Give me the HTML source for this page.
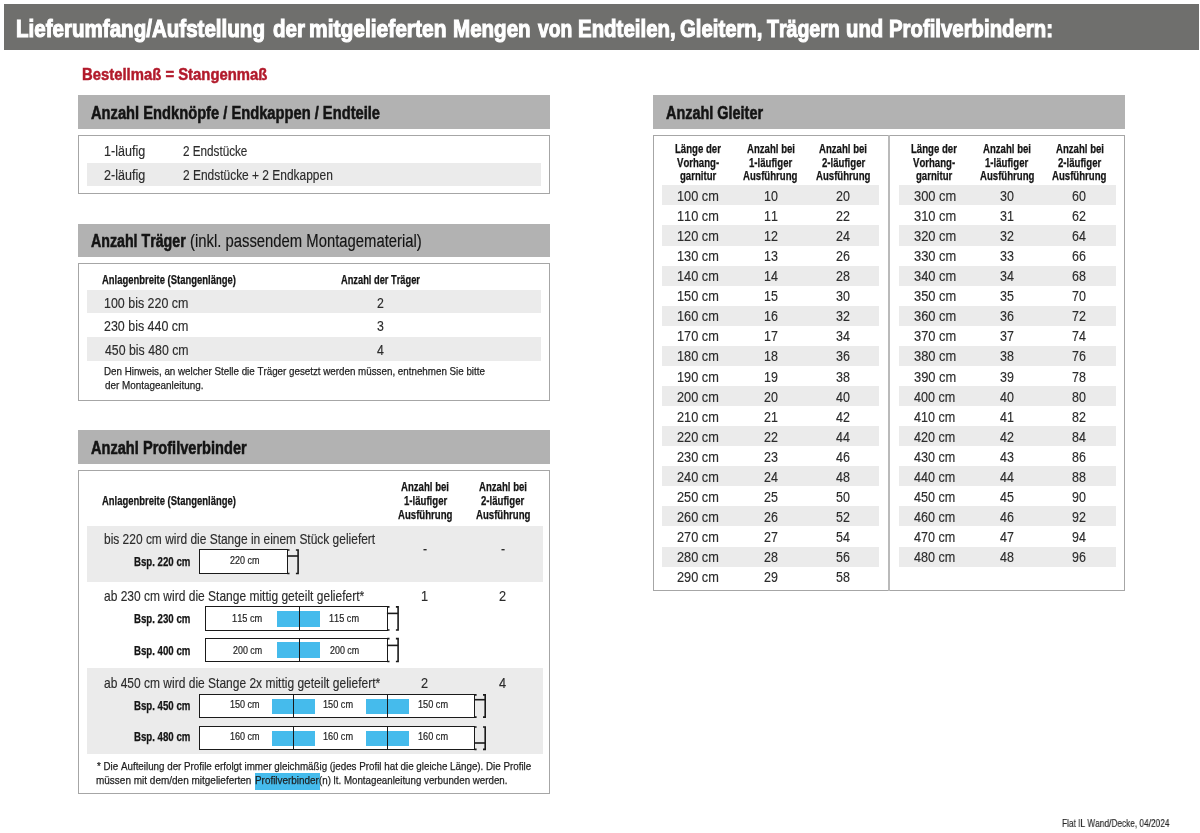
<!DOCTYPE html><html><head><meta charset="utf-8"><style>
html,body{margin:0;padding:0;background:#fff;width:1200px;height:833px;overflow:hidden;position:relative}
div{white-space:nowrap}
body{font-family:"Liberation Sans",sans-serif;font-kerning:none;}
</style></head><body>
<div id="wrap" style="position:absolute;left:0;top:0;width:1200px;height:833px;will-change:transform">

<div style="position:absolute;left:4px;top:4px;width:1195px;height:46px;background:#6f6f6d;"></div>
<div style="position:absolute;left:78px;top:95px;width:472px;height:33.5px;background:#b2b2b2;"></div>
<div style="position:absolute;left:77.6px;top:134.6px;width:472.69999999999993px;height:59.80000000000001px;box-sizing:border-box;border:1.5px solid #a6a6a6;"></div>
<div style="position:absolute;left:87px;top:162.7px;width:454px;height:23.100000000000023px;background:#ebebeb;"></div>
<div style="position:absolute;left:78px;top:224px;width:472px;height:33px;background:#b2b2b2;"></div>
<div style="position:absolute;left:77.6px;top:263.0px;width:472.69999999999993px;height:138.3px;box-sizing:border-box;border:1.5px solid #a6a6a6;"></div>
<div style="position:absolute;left:87px;top:289.7px;width:454px;height:23.600000000000023px;background:#ebebeb;"></div>
<div style="position:absolute;left:87px;top:337px;width:454px;height:24px;background:#ebebeb;"></div>
<div style="position:absolute;left:78px;top:430.4px;width:472px;height:33.200000000000045px;background:#b2b2b2;"></div>
<div style="position:absolute;left:77.6px;top:469.8px;width:472.69999999999993px;height:324.3px;box-sizing:border-box;border:1.5px solid #a6a6a6;"></div>
<div style="position:absolute;left:87px;top:526px;width:456px;height:56px;background:#ebebeb;"></div>
<div style="position:absolute;left:87px;top:668.3px;width:456px;height:86.20000000000005px;background:#ebebeb;"></div>
<div style="position:absolute;left:199px;top:549.3px;width:88.89999999999998px;height:24.90000000000009px;box-sizing:border-box;border:1.8px solid #1a1a1a;background:#fff;"></div>
<svg style="position:absolute;left:0;top:0" width="1200" height="833"><g fill="none" stroke="#1a1a1a" stroke-width="1.6"><path d="M287.29999999999995,549.9499999999999 h2.2 M287.29999999999995,573.5500000000001 h2.2"/><path d="M295.9,549.9499999999999 h2.2 v23.60000000000009 h-2.2"/><path d="M286.9,556 H298.09999999999997"/></g></svg>
<div style="position:absolute;left:204.9px;top:606.2px;width:182.99999999999997px;height:24.5px;box-sizing:border-box;border:1.8px solid #1a1a1a;background:#fff;"></div>
<div style="position:absolute;left:277.3px;top:610.5px;width:43.0px;height:16.200000000000045px;background:#45bbec;"></div>
<div style="position:absolute;left:298.5px;top:606.2px;width:1.1999999999999886px;height:24.5px;background:#1a1a1a;"></div>
<svg style="position:absolute;left:0;top:0" width="1200" height="833"><g fill="none" stroke="#1a1a1a" stroke-width="1.6"><path d="M387.29999999999995,606.85 h2.2 M387.29999999999995,630.0500000000001 h2.2"/><path d="M395.9,606.85 h2.2 v23.2 h-2.2"/><path d="M386.9,613.4 H398.09999999999997"/></g></svg>
<div style="position:absolute;left:204.9px;top:638.0px;width:182.99999999999997px;height:24.200000000000045px;box-sizing:border-box;border:1.8px solid #1a1a1a;background:#fff;"></div>
<div style="position:absolute;left:277.3px;top:642.3px;width:43.0px;height:15.900000000000091px;background:#45bbec;"></div>
<div style="position:absolute;left:298.5px;top:638.0px;width:1.1999999999999886px;height:24.200000000000045px;background:#1a1a1a;"></div>
<svg style="position:absolute;left:0;top:0" width="1200" height="833"><g fill="none" stroke="#1a1a1a" stroke-width="1.6"><path d="M387.29999999999995,638.65 h2.2 M387.29999999999995,661.5500000000001 h2.2"/><path d="M395.9,638.65 h2.2 v22.900000000000045 h-2.2"/><path d="M386.9,645.4 H398.09999999999997"/></g></svg>
<div style="position:absolute;left:199.2px;top:694.2px;width:275.8px;height:23.59999999999991px;box-sizing:border-box;border:1.8px solid #1a1a1a;background:#fff;"></div>
<div style="position:absolute;left:272px;top:698.5px;width:43.30000000000001px;height:15.299999999999955px;background:#45bbec;"></div>
<div style="position:absolute;left:366.2px;top:698.5px;width:43.0px;height:15.299999999999955px;background:#45bbec;"></div>
<div style="position:absolute;left:292.5px;top:694.2px;width:1.1999999999999886px;height:23.59999999999991px;background:#1a1a1a;"></div>
<div style="position:absolute;left:386.5px;top:694.2px;width:1.1999999999999886px;height:23.59999999999991px;background:#1a1a1a;"></div>
<svg style="position:absolute;left:0;top:0" width="1200" height="833"><g fill="none" stroke="#1a1a1a" stroke-width="1.6"><path d="M474.4,694.85 h2.2 M474.4,717.15 h2.2"/><path d="M483.0,694.85 h2.2 v22.29999999999991 h-2.2"/><path d="M474,699.7 H485.2"/></g></svg>
<div style="position:absolute;left:199.2px;top:726.3px;width:275.8px;height:23.700000000000045px;box-sizing:border-box;border:1.8px solid #1a1a1a;background:#fff;"></div>
<div style="position:absolute;left:272px;top:730.5999999999999px;width:43.30000000000001px;height:15.400000000000091px;background:#45bbec;"></div>
<div style="position:absolute;left:366.2px;top:730.5999999999999px;width:43.0px;height:15.400000000000091px;background:#45bbec;"></div>
<div style="position:absolute;left:292.5px;top:726.3px;width:1.1999999999999886px;height:23.700000000000045px;background:#1a1a1a;"></div>
<div style="position:absolute;left:386.5px;top:726.3px;width:1.1999999999999886px;height:23.700000000000045px;background:#1a1a1a;"></div>
<svg style="position:absolute;left:0;top:0" width="1200" height="833"><g fill="none" stroke="#1a1a1a" stroke-width="1.6"><path d="M474.4,726.9499999999999 h2.2 M474.4,749.35 h2.2"/><path d="M483.0,726.9499999999999 h2.2 v22.400000000000045 h-2.2"/><path d="M474,743 H485.2"/></g></svg>
<div style="position:absolute;left:254.8px;top:772.7px;width:65.0px;height:17.699999999999932px;background:#45bbec;"></div>
<div style="position:absolute;left:653px;top:95.3px;width:472px;height:33.39999999999999px;background:#b2b2b2;"></div>
<div style="position:absolute;left:652.9px;top:134.9px;width:472.5000000000001px;height:455.9px;box-sizing:border-box;border:1.5px solid #a6a6a6;"></div>
<div style="position:absolute;left:888.3px;top:135px;width:1.400000000000091px;height:455.5px;background:#bababa;"></div>
<div style="position:absolute;left:662.3px;top:185.3px;width:216.4000000000001px;height:20.069999999999993px;background:#ebebeb;"></div>
<div style="position:absolute;left:662.3px;top:225.44px;width:216.4000000000001px;height:20.069999999999993px;background:#ebebeb;"></div>
<div style="position:absolute;left:662.3px;top:265.58000000000004px;width:216.4000000000001px;height:20.069999999999993px;background:#ebebeb;"></div>
<div style="position:absolute;left:662.3px;top:305.72px;width:216.4000000000001px;height:20.069999999999993px;background:#ebebeb;"></div>
<div style="position:absolute;left:662.3px;top:345.86px;width:216.4000000000001px;height:20.069999999999993px;background:#ebebeb;"></div>
<div style="position:absolute;left:662.3px;top:386.0px;width:216.4000000000001px;height:20.069999999999993px;background:#ebebeb;"></div>
<div style="position:absolute;left:662.3px;top:426.14px;width:216.4000000000001px;height:20.069999999999993px;background:#ebebeb;"></div>
<div style="position:absolute;left:662.3px;top:466.28000000000003px;width:216.4000000000001px;height:20.069999999999993px;background:#ebebeb;"></div>
<div style="position:absolute;left:662.3px;top:506.42px;width:216.4000000000001px;height:20.069999999999993px;background:#ebebeb;"></div>
<div style="position:absolute;left:662.3px;top:546.56px;width:216.4000000000001px;height:20.07000000000005px;background:#ebebeb;"></div>
<div style="position:absolute;left:899.3px;top:185.3px;width:216.70000000000005px;height:20.069999999999993px;background:#ebebeb;"></div>
<div style="position:absolute;left:899.3px;top:225.44px;width:216.70000000000005px;height:20.069999999999993px;background:#ebebeb;"></div>
<div style="position:absolute;left:899.3px;top:265.58000000000004px;width:216.70000000000005px;height:20.069999999999993px;background:#ebebeb;"></div>
<div style="position:absolute;left:899.3px;top:305.72px;width:216.70000000000005px;height:20.069999999999993px;background:#ebebeb;"></div>
<div style="position:absolute;left:899.3px;top:345.86px;width:216.70000000000005px;height:20.069999999999993px;background:#ebebeb;"></div>
<div style="position:absolute;left:899.3px;top:386.0px;width:216.70000000000005px;height:20.069999999999993px;background:#ebebeb;"></div>
<div style="position:absolute;left:899.3px;top:426.14px;width:216.70000000000005px;height:20.069999999999993px;background:#ebebeb;"></div>
<div style="position:absolute;left:899.3px;top:466.28000000000003px;width:216.70000000000005px;height:20.069999999999993px;background:#ebebeb;"></div>
<div style="position:absolute;left:899.3px;top:506.42px;width:216.70000000000005px;height:20.069999999999993px;background:#ebebeb;"></div>
<div style="position:absolute;left:899.3px;top:546.56px;width:216.70000000000005px;height:20.07000000000005px;background:#ebebeb;"></div>
<div id="t0" style="position:absolute;left:16.14px;top:16.88px;font-size:24px;line-height:24px;font-weight:bold;color:#ffffff;transform:scaleX(0.8564);transform-origin:0 0;-webkit-text-stroke:1.1px #fff;">Lieferumfang/Aufstellung</div>
<div id="t1" style="position:absolute;left:272.50px;top:16.88px;font-size:24px;line-height:24px;font-weight:bold;color:#ffffff;transform:scaleX(0.8553);transform-origin:0 0;-webkit-text-stroke:1.1px #fff;">der</div>
<div id="t2" style="position:absolute;left:309.13px;top:16.88px;font-size:24px;line-height:24px;font-weight:bold;color:#ffffff;transform:scaleX(0.8734);transform-origin:0 0;-webkit-text-stroke:1.1px #fff;">mitgelieferten</div>
<div id="t3" style="position:absolute;left:452.89px;top:16.88px;font-size:24px;line-height:24px;font-weight:bold;color:#ffffff;transform:scaleX(0.8567);transform-origin:0 0;-webkit-text-stroke:1.1px #fff;">Mengen</div>
<div id="t4" style="position:absolute;left:537.50px;top:16.88px;font-size:24px;line-height:24px;font-weight:bold;color:#ffffff;transform:scaleX(0.8036);transform-origin:0 0;-webkit-text-stroke:1.1px #fff;">von</div>
<div id="t5" style="position:absolute;left:577.90px;top:16.88px;font-size:24px;line-height:24px;font-weight:bold;color:#ffffff;transform:scaleX(0.8518);transform-origin:0 0;-webkit-text-stroke:1.1px #fff;">Endteilen,</div>
<div id="t6" style="position:absolute;left:680.00px;top:16.88px;font-size:24px;line-height:24px;font-weight:bold;color:#ffffff;transform:scaleX(0.8464);transform-origin:0 0;-webkit-text-stroke:1.1px #fff;">Gleitern,</div>
<div id="t7" style="position:absolute;left:767.00px;top:16.88px;font-size:24px;line-height:24px;font-weight:bold;color:#ffffff;transform:scaleX(0.8146);transform-origin:0 0;-webkit-text-stroke:1.1px #fff;">Trägern</div>
<div id="t8" style="position:absolute;left:846.15px;top:16.88px;font-size:24px;line-height:24px;font-weight:bold;color:#ffffff;transform:scaleX(0.8452);transform-origin:0 0;-webkit-text-stroke:1.1px #fff;">und</div>
<div id="t9" style="position:absolute;left:889.15px;top:16.88px;font-size:24px;line-height:24px;font-weight:bold;color:#ffffff;transform:scaleX(0.8482);transform-origin:0 0;-webkit-text-stroke:1.1px #fff;">Profilverbindern:</div>
<div id="t10" style="position:absolute;left:81.70px;top:66.23px;font-size:16.5px;line-height:16.5px;font-weight:bold;color:#b21a2b;transform:scaleX(0.9005);transform-origin:0 0;-webkit-text-stroke:0.48px #b21a2b;">Bestellmaß = Stangenmaß</div>
<div id="t11" style="position:absolute;left:91.00px;top:103.96px;font-size:18px;line-height:18px;font-weight:bold;color:#141414;transform:scaleX(0.8164);transform-origin:0 0;-webkit-text-stroke:0.55px #141414;">Anzahl Endknöpfe / Endkappen / Endteile</div>
<div id="t12" style="position:absolute;left:104.10px;top:144.35px;font-size:14px;line-height:14px;font-weight:normal;color:#2b2b2b;transform:scaleX(0.8977);transform-origin:0 0;-webkit-text-stroke:0.15px #2b2b2b;">1-läufig</div>
<div id="t13" style="position:absolute;left:183.16px;top:144.35px;font-size:14px;line-height:14px;font-weight:normal;color:#2b2b2b;transform:scaleX(0.8355);transform-origin:0 0;-webkit-text-stroke:0.15px #2b2b2b;">2 Endstücke</div>
<div id="t14" style="position:absolute;left:104.10px;top:168.35px;font-size:14px;line-height:14px;font-weight:normal;color:#2b2b2b;transform:scaleX(0.8977);transform-origin:0 0;-webkit-text-stroke:0.15px #2b2b2b;">2-läufig</div>
<div id="t15" style="position:absolute;left:183.15px;top:168.35px;font-size:14px;line-height:14px;font-weight:normal;color:#2b2b2b;transform:scaleX(0.8534);transform-origin:0 0;-webkit-text-stroke:0.15px #2b2b2b;">2 Endstücke + 2 Endkappen</div>
<div id="t16" style="position:absolute;left:91.00px;top:231.96px;font-size:18px;line-height:18px;font-weight:bold;color:#141414;transform:scaleX(0.7892);transform-origin:0 0;-webkit-text-stroke:0.55px #141414;">Anzahl Träger</div>
<div id="t17" style="position:absolute;left:189.68px;top:231.96px;font-size:18px;line-height:18px;font-weight:normal;color:#141414;transform:scaleX(0.8244);transform-origin:0 0;-webkit-text-stroke:0.15px #141414;">(inkl. passendem Montagematerial)</div>
<div id="t18" style="position:absolute;left:102.00px;top:274.04px;font-size:12px;line-height:12px;font-weight:bold;color:#141414;transform:scaleX(0.7871);transform-origin:0 0;-webkit-text-stroke:0.25px #141414;">Anlagenbreite (Stangenlänge)</div>
<div id="t19" style="position:absolute;left:340.80px;top:274.04px;font-size:12px;line-height:12px;font-weight:bold;color:#141414;transform:scaleX(0.7735);transform-origin:0 0;-webkit-text-stroke:0.25px #141414;">Anzahl der Träger</div>
<div id="t20" style="position:absolute;left:104.14px;top:295.93px;font-size:14.5px;line-height:14.5px;font-weight:normal;color:#2b2b2b;transform:scaleX(0.8588);transform-origin:0 0;-webkit-text-stroke:0.15px #2b2b2b;">100 bis 220 cm</div>
<div id="t21" style="position:absolute;left:376.57px;top:295.93px;font-size:14.5px;line-height:14.5px;font-weight:normal;color:#2b2b2b;transform:scaleX(0.8500);transform-origin:0 0;-webkit-text-stroke:0.15px #2b2b2b;">2</div>
<div id="t22" style="position:absolute;left:104.14px;top:318.93px;font-size:14.5px;line-height:14.5px;font-weight:normal;color:#2b2b2b;transform:scaleX(0.8588);transform-origin:0 0;-webkit-text-stroke:0.15px #2b2b2b;">230 bis 440 cm</div>
<div id="t23" style="position:absolute;left:376.57px;top:318.93px;font-size:14.5px;line-height:14.5px;font-weight:normal;color:#2b2b2b;transform:scaleX(0.8500);transform-origin:0 0;-webkit-text-stroke:0.15px #2b2b2b;">3</div>
<div id="t24" style="position:absolute;left:105.00px;top:342.93px;font-size:14.5px;line-height:14.5px;font-weight:normal;color:#2b2b2b;transform:scaleX(0.8500);transform-origin:0 0;-webkit-text-stroke:0.15px #2b2b2b;">450 bis 480 cm</div>
<div id="t25" style="position:absolute;left:377.00px;top:342.93px;font-size:14.5px;line-height:14.5px;font-weight:normal;color:#2b2b2b;transform:scaleX(0.8500);transform-origin:0 0;-webkit-text-stroke:0.15px #2b2b2b;">4</div>
<div id="t26" style="position:absolute;left:104.15px;top:366.47px;font-size:11.5px;line-height:11.5px;font-weight:normal;color:#1e1e1e;transform:scaleX(0.8513);transform-origin:0 0;-webkit-text-stroke:0.25px #1e1e1e;">Den Hinweis, an welcher Stelle die Träger gesetzt werden müssen, entnehmen Sie bitte</div>
<div id="t27" style="position:absolute;left:105.00px;top:380.47px;font-size:11.5px;line-height:11.5px;font-weight:normal;color:#1e1e1e;transform:scaleX(0.8596);transform-origin:0 0;-webkit-text-stroke:0.25px #1e1e1e;">der Montageanleitung.</div>
<div id="t28" style="position:absolute;left:91.00px;top:438.96px;font-size:18px;line-height:18px;font-weight:bold;color:#141414;transform:scaleX(0.8109);transform-origin:0 0;-webkit-text-stroke:0.55px #141414;">Anzahl Profilverbinder</div>
<div id="t29" style="position:absolute;left:102.00px;top:495.04px;font-size:12px;line-height:12px;font-weight:bold;color:#141414;transform:scaleX(0.7871);transform-origin:0 0;-webkit-text-stroke:0.25px #141414;">Anlagenbreite (Stangenlänge)</div>
<div id="t30" style="position:absolute;left:401.20px;top:481.04px;font-size:12px;line-height:12px;font-weight:bold;color:#141414;transform:scaleX(0.8000);transform-origin:0 0;-webkit-text-stroke:0.25px #141414;">Anzahl bei</div>
<div id="t31" style="position:absolute;left:403.60px;top:495.04px;font-size:12px;line-height:12px;font-weight:bold;color:#141414;transform:scaleX(0.8000);transform-origin:0 0;-webkit-text-stroke:0.25px #141414;">1-läufiger</div>
<div id="t32" style="position:absolute;left:398.00px;top:509.04px;font-size:12px;line-height:12px;font-weight:bold;color:#141414;transform:scaleX(0.8000);transform-origin:0 0;-webkit-text-stroke:0.25px #141414;">Ausführung</div>
<div id="t33" style="position:absolute;left:479.00px;top:481.04px;font-size:12px;line-height:12px;font-weight:bold;color:#141414;transform:scaleX(0.8000);transform-origin:0 0;-webkit-text-stroke:0.25px #141414;">Anzahl bei</div>
<div id="t34" style="position:absolute;left:481.40px;top:495.04px;font-size:12px;line-height:12px;font-weight:bold;color:#141414;transform:scaleX(0.8000);transform-origin:0 0;-webkit-text-stroke:0.25px #141414;">2-läufiger</div>
<div id="t35" style="position:absolute;left:475.80px;top:509.04px;font-size:12px;line-height:12px;font-weight:bold;color:#141414;transform:scaleX(0.8000);transform-origin:0 0;-webkit-text-stroke:0.25px #141414;">Ausführung</div>
<div id="t36" style="position:absolute;left:103.80px;top:530.50px;font-size:15px;line-height:15px;font-weight:normal;color:#2b2b2b;transform:scaleX(0.7971);transform-origin:0 0;-webkit-text-stroke:0.15px #2b2b2b;">bis 220 cm wird die Stange in einem Stück geliefert</div>
<div id="t37" style="position:absolute;left:423.30px;top:541.93px;font-size:14.5px;line-height:14.5px;font-weight:normal;color:#2b2b2b;transform:scaleX(0.8500);transform-origin:0 0;-webkit-text-stroke:0.15px #2b2b2b;">-</div>
<div id="t38" style="position:absolute;left:501.30px;top:541.93px;font-size:14.5px;line-height:14.5px;font-weight:normal;color:#2b2b2b;transform:scaleX(0.8500);transform-origin:0 0;-webkit-text-stroke:0.15px #2b2b2b;">-</div>
<div id="t39" style="position:absolute;left:104.00px;top:587.50px;font-size:15px;line-height:15px;font-weight:normal;color:#2b2b2b;transform:scaleX(0.8000);transform-origin:0 0;-webkit-text-stroke:0.15px #2b2b2b;">ab 230 cm wird die Stange mittig geteilt geliefert*</div>
<div id="t40" style="position:absolute;left:420.68px;top:587.50px;font-size:15px;line-height:15px;font-weight:normal;color:#2b2b2b;transform:scaleX(0.8500);transform-origin:0 0;-webkit-text-stroke:0.15px #2b2b2b;">1</div>
<div id="t41" style="position:absolute;left:499.18px;top:587.50px;font-size:15px;line-height:15px;font-weight:normal;color:#2b2b2b;transform:scaleX(0.8500);transform-origin:0 0;-webkit-text-stroke:0.15px #2b2b2b;">2</div>
<div id="t42" style="position:absolute;left:104.00px;top:674.50px;font-size:15px;line-height:15px;font-weight:normal;color:#2b2b2b;transform:scaleX(0.8000);transform-origin:0 0;-webkit-text-stroke:0.15px #2b2b2b;">ab 450 cm wird die Stange 2x mittig geteilt geliefert*</div>
<div id="t43" style="position:absolute;left:420.98px;top:674.50px;font-size:15px;line-height:15px;font-weight:normal;color:#2b2b2b;transform:scaleX(0.8500);transform-origin:0 0;-webkit-text-stroke:0.15px #2b2b2b;">2</div>
<div id="t44" style="position:absolute;left:499.40px;top:674.50px;font-size:15px;line-height:15px;font-weight:normal;color:#2b2b2b;transform:scaleX(0.8500);transform-origin:0 0;-webkit-text-stroke:0.15px #2b2b2b;">4</div>
<div id="t45" style="position:absolute;left:134.20px;top:556.04px;font-size:12px;line-height:12px;font-weight:bold;color:#141414;transform:scaleX(0.8043);transform-origin:0 0;-webkit-text-stroke:0.25px #141414;">Bsp. 220 cm</div>
<div id="t46" style="position:absolute;left:230.00px;top:555.31px;font-size:10.5px;line-height:10.5px;font-weight:normal;color:#1e1e1e;transform:scaleX(0.8529);transform-origin:0 0;-webkit-text-stroke:0.2px #1e1e1e;">220 cm</div>
<div id="t47" style="position:absolute;left:134.20px;top:613.04px;font-size:12px;line-height:12px;font-weight:bold;color:#141414;transform:scaleX(0.8043);transform-origin:0 0;-webkit-text-stroke:0.25px #141414;">Bsp. 230 cm</div>
<div id="t48" style="position:absolute;left:232.12px;top:613.31px;font-size:10.5px;line-height:10.5px;font-weight:normal;color:#1e1e1e;transform:scaleX(0.8788);transform-origin:0 0;-webkit-text-stroke:0.2px #1e1e1e;">115 cm</div>
<div id="t49" style="position:absolute;left:329.13px;top:613.31px;font-size:10.5px;line-height:10.5px;font-weight:normal;color:#1e1e1e;transform:scaleX(0.8727);transform-origin:0 0;-webkit-text-stroke:0.2px #1e1e1e;">115 cm</div>
<div id="t50" style="position:absolute;left:134.20px;top:645.04px;font-size:12px;line-height:12px;font-weight:bold;color:#141414;transform:scaleX(0.8043);transform-origin:0 0;-webkit-text-stroke:0.25px #141414;">Bsp. 400 cm</div>
<div id="t51" style="position:absolute;left:232.50px;top:645.31px;font-size:10.5px;line-height:10.5px;font-weight:normal;color:#1e1e1e;transform:scaleX(0.8471);transform-origin:0 0;-webkit-text-stroke:0.2px #1e1e1e;">200 cm</div>
<div id="t52" style="position:absolute;left:330.00px;top:645.31px;font-size:10.5px;line-height:10.5px;font-weight:normal;color:#1e1e1e;transform:scaleX(0.8471);transform-origin:0 0;-webkit-text-stroke:0.2px #1e1e1e;">200 cm</div>
<div id="t53" style="position:absolute;left:134.20px;top:700.04px;font-size:12px;line-height:12px;font-weight:bold;color:#141414;transform:scaleX(0.8043);transform-origin:0 0;-webkit-text-stroke:0.25px #141414;">Bsp. 450 cm</div>
<div id="t54" style="position:absolute;left:230.44px;top:699.31px;font-size:10.5px;line-height:10.5px;font-weight:normal;color:#1e1e1e;transform:scaleX(0.8606);transform-origin:0 0;-webkit-text-stroke:0.2px #1e1e1e;">150 cm</div>
<div id="t55" style="position:absolute;left:323.33px;top:699.31px;font-size:10.5px;line-height:10.5px;font-weight:normal;color:#1e1e1e;transform:scaleX(0.8727);transform-origin:0 0;-webkit-text-stroke:0.2px #1e1e1e;">150 cm</div>
<div id="t56" style="position:absolute;left:417.83px;top:699.31px;font-size:10.5px;line-height:10.5px;font-weight:normal;color:#1e1e1e;transform:scaleX(0.8727);transform-origin:0 0;-webkit-text-stroke:0.2px #1e1e1e;">150 cm</div>
<div id="t57" style="position:absolute;left:134.20px;top:731.04px;font-size:12px;line-height:12px;font-weight:bold;color:#141414;transform:scaleX(0.8043);transform-origin:0 0;-webkit-text-stroke:0.25px #141414;">Bsp. 480 cm</div>
<div id="t58" style="position:absolute;left:230.44px;top:731.31px;font-size:10.5px;line-height:10.5px;font-weight:normal;color:#1e1e1e;transform:scaleX(0.8606);transform-origin:0 0;-webkit-text-stroke:0.2px #1e1e1e;">160 cm</div>
<div id="t59" style="position:absolute;left:323.33px;top:731.31px;font-size:10.5px;line-height:10.5px;font-weight:normal;color:#1e1e1e;transform:scaleX(0.8727);transform-origin:0 0;-webkit-text-stroke:0.2px #1e1e1e;">160 cm</div>
<div id="t60" style="position:absolute;left:417.83px;top:731.31px;font-size:10.5px;line-height:10.5px;font-weight:normal;color:#1e1e1e;transform:scaleX(0.8727);transform-origin:0 0;-webkit-text-stroke:0.2px #1e1e1e;">160 cm</div>
<div id="t61" style="position:absolute;left:96.90px;top:761.47px;font-size:11.5px;line-height:11.5px;font-weight:normal;color:#1e1e1e;transform:scaleX(0.8512);transform-origin:0 0;-webkit-text-stroke:0.25px #1e1e1e;">* Die Aufteilung der Profile erfolgt immer gleichmäßig (jedes Profil hat die gleiche Länge). Die Profile</div>
<div id="t62" style="position:absolute;left:96.03px;top:775.47px;font-size:11.5px;line-height:11.5px;font-weight:normal;color:#1e1e1e;transform:scaleX(0.8684);transform-origin:0 0;-webkit-text-stroke:0.25px #1e1e1e;">müssen mit dem/den mitgelieferten</div>
<div id="t63" style="position:absolute;left:254.54px;top:775.47px;font-size:11.5px;line-height:11.5px;font-weight:normal;color:#1e1e1e;transform:scaleX(0.8616);transform-origin:0 0;-webkit-text-stroke:0.25px #1e1e1e;">Profilverbinder</div>
<div id="t64" style="position:absolute;left:319.35px;top:775.47px;font-size:11.5px;line-height:11.5px;font-weight:normal;color:#1e1e1e;transform:scaleX(0.8471);transform-origin:0 0;-webkit-text-stroke:0.25px #1e1e1e;">(n) lt. Montageanleitung verbunden werden.</div>
<div id="t65" style="position:absolute;left:666.00px;top:103.96px;font-size:18px;line-height:18px;font-weight:bold;color:#141414;transform:scaleX(0.8017);transform-origin:0 0;-webkit-text-stroke:0.55px #141414;">Anzahl Gleiter</div>
<div id="t66" style="position:absolute;left:675.20px;top:143.04px;font-size:12px;line-height:12px;font-weight:bold;color:#141414;transform:scaleX(0.8000);transform-origin:0 0;-webkit-text-stroke:0.25px #141414;">Länge der</div>
<div id="t67" style="position:absolute;left:677.20px;top:157.04px;font-size:12px;line-height:12px;font-weight:bold;color:#141414;transform:scaleX(0.8000);transform-origin:0 0;-webkit-text-stroke:0.25px #141414;">Vorhang-</div>
<div id="t68" style="position:absolute;left:680.00px;top:170.04px;font-size:12px;line-height:12px;font-weight:bold;color:#141414;transform:scaleX(0.8000);transform-origin:0 0;-webkit-text-stroke:0.25px #141414;">garnitur</div>
<div id="t69" style="position:absolute;left:746.50px;top:143.04px;font-size:12px;line-height:12px;font-weight:bold;color:#141414;transform:scaleX(0.8000);transform-origin:0 0;-webkit-text-stroke:0.25px #141414;">Anzahl bei</div>
<div id="t70" style="position:absolute;left:748.90px;top:157.04px;font-size:12px;line-height:12px;font-weight:bold;color:#141414;transform:scaleX(0.8000);transform-origin:0 0;-webkit-text-stroke:0.25px #141414;">1-läufiger</div>
<div id="t71" style="position:absolute;left:743.30px;top:170.04px;font-size:12px;line-height:12px;font-weight:bold;color:#141414;transform:scaleX(0.8000);transform-origin:0 0;-webkit-text-stroke:0.25px #141414;">Ausführung</div>
<div id="t72" style="position:absolute;left:819.40px;top:143.04px;font-size:12px;line-height:12px;font-weight:bold;color:#141414;transform:scaleX(0.8000);transform-origin:0 0;-webkit-text-stroke:0.25px #141414;">Anzahl bei</div>
<div id="t73" style="position:absolute;left:821.80px;top:157.04px;font-size:12px;line-height:12px;font-weight:bold;color:#141414;transform:scaleX(0.8000);transform-origin:0 0;-webkit-text-stroke:0.25px #141414;">2-läufiger</div>
<div id="t74" style="position:absolute;left:816.20px;top:170.04px;font-size:12px;line-height:12px;font-weight:bold;color:#141414;transform:scaleX(0.8000);transform-origin:0 0;-webkit-text-stroke:0.25px #141414;">Ausführung</div>
<div id="t75" style="position:absolute;left:911.20px;top:143.04px;font-size:12px;line-height:12px;font-weight:bold;color:#141414;transform:scaleX(0.8000);transform-origin:0 0;-webkit-text-stroke:0.25px #141414;">Länge der</div>
<div id="t76" style="position:absolute;left:913.20px;top:157.04px;font-size:12px;line-height:12px;font-weight:bold;color:#141414;transform:scaleX(0.8000);transform-origin:0 0;-webkit-text-stroke:0.25px #141414;">Vorhang-</div>
<div id="t77" style="position:absolute;left:916.00px;top:170.04px;font-size:12px;line-height:12px;font-weight:bold;color:#141414;transform:scaleX(0.8000);transform-origin:0 0;-webkit-text-stroke:0.25px #141414;">garnitur</div>
<div id="t78" style="position:absolute;left:983.00px;top:143.04px;font-size:12px;line-height:12px;font-weight:bold;color:#141414;transform:scaleX(0.8000);transform-origin:0 0;-webkit-text-stroke:0.25px #141414;">Anzahl bei</div>
<div id="t79" style="position:absolute;left:985.40px;top:157.04px;font-size:12px;line-height:12px;font-weight:bold;color:#141414;transform:scaleX(0.8000);transform-origin:0 0;-webkit-text-stroke:0.25px #141414;">1-läufiger</div>
<div id="t80" style="position:absolute;left:979.80px;top:170.04px;font-size:12px;line-height:12px;font-weight:bold;color:#141414;transform:scaleX(0.8000);transform-origin:0 0;-webkit-text-stroke:0.25px #141414;">Ausführung</div>
<div id="t81" style="position:absolute;left:1055.50px;top:143.04px;font-size:12px;line-height:12px;font-weight:bold;color:#141414;transform:scaleX(0.8000);transform-origin:0 0;-webkit-text-stroke:0.25px #141414;">Anzahl bei</div>
<div id="t82" style="position:absolute;left:1057.90px;top:157.04px;font-size:12px;line-height:12px;font-weight:bold;color:#141414;transform:scaleX(0.8000);transform-origin:0 0;-webkit-text-stroke:0.25px #141414;">2-läufiger</div>
<div id="t83" style="position:absolute;left:1052.30px;top:170.04px;font-size:12px;line-height:12px;font-weight:bold;color:#141414;transform:scaleX(0.8000);transform-origin:0 0;-webkit-text-stroke:0.25px #141414;">Ausführung</div>
<div id="t84" style="position:absolute;left:677.43px;top:188.76px;font-size:14.7px;line-height:14.7px;font-weight:normal;color:#2b2b2b;transform:scaleX(0.8696);transform-origin:0 0;-webkit-text-stroke:0.15px #2b2b2b;">100 cm</div>
<div id="t85" style="position:absolute;left:763.57px;top:188.76px;font-size:14.7px;line-height:14.7px;font-weight:normal;color:#2b2b2b;transform:scaleX(0.8500);transform-origin:0 0;-webkit-text-stroke:0.15px #2b2b2b;">10</div>
<div id="t86" style="position:absolute;left:835.88px;top:188.76px;font-size:14.7px;line-height:14.7px;font-weight:normal;color:#2b2b2b;transform:scaleX(0.8500);transform-origin:0 0;-webkit-text-stroke:0.15px #2b2b2b;">20</div>
<div id="t87" style="position:absolute;left:677.43px;top:208.76px;font-size:14.7px;line-height:14.7px;font-weight:normal;color:#2b2b2b;transform:scaleX(0.8696);transform-origin:0 0;-webkit-text-stroke:0.15px #2b2b2b;">110 cm</div>
<div id="t88" style="position:absolute;left:763.57px;top:208.76px;font-size:14.7px;line-height:14.7px;font-weight:normal;color:#2b2b2b;transform:scaleX(0.8500);transform-origin:0 0;-webkit-text-stroke:0.15px #2b2b2b;">11</div>
<div id="t89" style="position:absolute;left:835.88px;top:208.76px;font-size:14.7px;line-height:14.7px;font-weight:normal;color:#2b2b2b;transform:scaleX(0.8500);transform-origin:0 0;-webkit-text-stroke:0.15px #2b2b2b;">22</div>
<div id="t90" style="position:absolute;left:677.43px;top:228.76px;font-size:14.7px;line-height:14.7px;font-weight:normal;color:#2b2b2b;transform:scaleX(0.8696);transform-origin:0 0;-webkit-text-stroke:0.15px #2b2b2b;">120 cm</div>
<div id="t91" style="position:absolute;left:763.57px;top:228.76px;font-size:14.7px;line-height:14.7px;font-weight:normal;color:#2b2b2b;transform:scaleX(0.8500);transform-origin:0 0;-webkit-text-stroke:0.15px #2b2b2b;">12</div>
<div id="t92" style="position:absolute;left:835.88px;top:228.76px;font-size:14.7px;line-height:14.7px;font-weight:normal;color:#2b2b2b;transform:scaleX(0.8500);transform-origin:0 0;-webkit-text-stroke:0.15px #2b2b2b;">24</div>
<div id="t93" style="position:absolute;left:677.43px;top:248.76px;font-size:14.7px;line-height:14.7px;font-weight:normal;color:#2b2b2b;transform:scaleX(0.8696);transform-origin:0 0;-webkit-text-stroke:0.15px #2b2b2b;">130 cm</div>
<div id="t94" style="position:absolute;left:763.57px;top:248.76px;font-size:14.7px;line-height:14.7px;font-weight:normal;color:#2b2b2b;transform:scaleX(0.8500);transform-origin:0 0;-webkit-text-stroke:0.15px #2b2b2b;">13</div>
<div id="t95" style="position:absolute;left:835.88px;top:248.76px;font-size:14.7px;line-height:14.7px;font-weight:normal;color:#2b2b2b;transform:scaleX(0.8500);transform-origin:0 0;-webkit-text-stroke:0.15px #2b2b2b;">26</div>
<div id="t96" style="position:absolute;left:677.43px;top:268.76px;font-size:14.7px;line-height:14.7px;font-weight:normal;color:#2b2b2b;transform:scaleX(0.8696);transform-origin:0 0;-webkit-text-stroke:0.15px #2b2b2b;">140 cm</div>
<div id="t97" style="position:absolute;left:763.57px;top:268.76px;font-size:14.7px;line-height:14.7px;font-weight:normal;color:#2b2b2b;transform:scaleX(0.8500);transform-origin:0 0;-webkit-text-stroke:0.15px #2b2b2b;">14</div>
<div id="t98" style="position:absolute;left:835.88px;top:268.76px;font-size:14.7px;line-height:14.7px;font-weight:normal;color:#2b2b2b;transform:scaleX(0.8500);transform-origin:0 0;-webkit-text-stroke:0.15px #2b2b2b;">28</div>
<div id="t99" style="position:absolute;left:677.43px;top:288.76px;font-size:14.7px;line-height:14.7px;font-weight:normal;color:#2b2b2b;transform:scaleX(0.8696);transform-origin:0 0;-webkit-text-stroke:0.15px #2b2b2b;">150 cm</div>
<div id="t100" style="position:absolute;left:763.57px;top:288.76px;font-size:14.7px;line-height:14.7px;font-weight:normal;color:#2b2b2b;transform:scaleX(0.8500);transform-origin:0 0;-webkit-text-stroke:0.15px #2b2b2b;">15</div>
<div id="t101" style="position:absolute;left:835.88px;top:288.76px;font-size:14.7px;line-height:14.7px;font-weight:normal;color:#2b2b2b;transform:scaleX(0.8500);transform-origin:0 0;-webkit-text-stroke:0.15px #2b2b2b;">30</div>
<div id="t102" style="position:absolute;left:677.43px;top:308.76px;font-size:14.7px;line-height:14.7px;font-weight:normal;color:#2b2b2b;transform:scaleX(0.8696);transform-origin:0 0;-webkit-text-stroke:0.15px #2b2b2b;">160 cm</div>
<div id="t103" style="position:absolute;left:763.57px;top:308.76px;font-size:14.7px;line-height:14.7px;font-weight:normal;color:#2b2b2b;transform:scaleX(0.8500);transform-origin:0 0;-webkit-text-stroke:0.15px #2b2b2b;">16</div>
<div id="t104" style="position:absolute;left:835.88px;top:308.76px;font-size:14.7px;line-height:14.7px;font-weight:normal;color:#2b2b2b;transform:scaleX(0.8500);transform-origin:0 0;-webkit-text-stroke:0.15px #2b2b2b;">32</div>
<div id="t105" style="position:absolute;left:677.43px;top:328.76px;font-size:14.7px;line-height:14.7px;font-weight:normal;color:#2b2b2b;transform:scaleX(0.8696);transform-origin:0 0;-webkit-text-stroke:0.15px #2b2b2b;">170 cm</div>
<div id="t106" style="position:absolute;left:763.57px;top:328.76px;font-size:14.7px;line-height:14.7px;font-weight:normal;color:#2b2b2b;transform:scaleX(0.8500);transform-origin:0 0;-webkit-text-stroke:0.15px #2b2b2b;">17</div>
<div id="t107" style="position:absolute;left:835.88px;top:328.76px;font-size:14.7px;line-height:14.7px;font-weight:normal;color:#2b2b2b;transform:scaleX(0.8500);transform-origin:0 0;-webkit-text-stroke:0.15px #2b2b2b;">34</div>
<div id="t108" style="position:absolute;left:677.43px;top:348.76px;font-size:14.7px;line-height:14.7px;font-weight:normal;color:#2b2b2b;transform:scaleX(0.8696);transform-origin:0 0;-webkit-text-stroke:0.15px #2b2b2b;">180 cm</div>
<div id="t109" style="position:absolute;left:763.57px;top:348.76px;font-size:14.7px;line-height:14.7px;font-weight:normal;color:#2b2b2b;transform:scaleX(0.8500);transform-origin:0 0;-webkit-text-stroke:0.15px #2b2b2b;">18</div>
<div id="t110" style="position:absolute;left:835.88px;top:348.76px;font-size:14.7px;line-height:14.7px;font-weight:normal;color:#2b2b2b;transform:scaleX(0.8500);transform-origin:0 0;-webkit-text-stroke:0.15px #2b2b2b;">36</div>
<div id="t111" style="position:absolute;left:677.43px;top:369.76px;font-size:14.7px;line-height:14.7px;font-weight:normal;color:#2b2b2b;transform:scaleX(0.8696);transform-origin:0 0;-webkit-text-stroke:0.15px #2b2b2b;">190 cm</div>
<div id="t112" style="position:absolute;left:763.57px;top:369.76px;font-size:14.7px;line-height:14.7px;font-weight:normal;color:#2b2b2b;transform:scaleX(0.8500);transform-origin:0 0;-webkit-text-stroke:0.15px #2b2b2b;">19</div>
<div id="t113" style="position:absolute;left:835.88px;top:369.76px;font-size:14.7px;line-height:14.7px;font-weight:normal;color:#2b2b2b;transform:scaleX(0.8500);transform-origin:0 0;-webkit-text-stroke:0.15px #2b2b2b;">38</div>
<div id="t114" style="position:absolute;left:677.43px;top:389.76px;font-size:14.7px;line-height:14.7px;font-weight:normal;color:#2b2b2b;transform:scaleX(0.8696);transform-origin:0 0;-webkit-text-stroke:0.15px #2b2b2b;">200 cm</div>
<div id="t115" style="position:absolute;left:763.57px;top:389.76px;font-size:14.7px;line-height:14.7px;font-weight:normal;color:#2b2b2b;transform:scaleX(0.8500);transform-origin:0 0;-webkit-text-stroke:0.15px #2b2b2b;">20</div>
<div id="t116" style="position:absolute;left:836.30px;top:389.76px;font-size:14.7px;line-height:14.7px;font-weight:normal;color:#2b2b2b;transform:scaleX(0.8500);transform-origin:0 0;-webkit-text-stroke:0.15px #2b2b2b;">40</div>
<div id="t117" style="position:absolute;left:677.43px;top:409.76px;font-size:14.7px;line-height:14.7px;font-weight:normal;color:#2b2b2b;transform:scaleX(0.8696);transform-origin:0 0;-webkit-text-stroke:0.15px #2b2b2b;">210 cm</div>
<div id="t118" style="position:absolute;left:763.57px;top:409.76px;font-size:14.7px;line-height:14.7px;font-weight:normal;color:#2b2b2b;transform:scaleX(0.8500);transform-origin:0 0;-webkit-text-stroke:0.15px #2b2b2b;">21</div>
<div id="t119" style="position:absolute;left:836.30px;top:409.76px;font-size:14.7px;line-height:14.7px;font-weight:normal;color:#2b2b2b;transform:scaleX(0.8500);transform-origin:0 0;-webkit-text-stroke:0.15px #2b2b2b;">42</div>
<div id="t120" style="position:absolute;left:677.43px;top:429.76px;font-size:14.7px;line-height:14.7px;font-weight:normal;color:#2b2b2b;transform:scaleX(0.8696);transform-origin:0 0;-webkit-text-stroke:0.15px #2b2b2b;">220 cm</div>
<div id="t121" style="position:absolute;left:763.57px;top:429.76px;font-size:14.7px;line-height:14.7px;font-weight:normal;color:#2b2b2b;transform:scaleX(0.8500);transform-origin:0 0;-webkit-text-stroke:0.15px #2b2b2b;">22</div>
<div id="t122" style="position:absolute;left:836.30px;top:429.76px;font-size:14.7px;line-height:14.7px;font-weight:normal;color:#2b2b2b;transform:scaleX(0.8500);transform-origin:0 0;-webkit-text-stroke:0.15px #2b2b2b;">44</div>
<div id="t123" style="position:absolute;left:677.43px;top:449.76px;font-size:14.7px;line-height:14.7px;font-weight:normal;color:#2b2b2b;transform:scaleX(0.8696);transform-origin:0 0;-webkit-text-stroke:0.15px #2b2b2b;">230 cm</div>
<div id="t124" style="position:absolute;left:763.57px;top:449.76px;font-size:14.7px;line-height:14.7px;font-weight:normal;color:#2b2b2b;transform:scaleX(0.8500);transform-origin:0 0;-webkit-text-stroke:0.15px #2b2b2b;">23</div>
<div id="t125" style="position:absolute;left:836.30px;top:449.76px;font-size:14.7px;line-height:14.7px;font-weight:normal;color:#2b2b2b;transform:scaleX(0.8500);transform-origin:0 0;-webkit-text-stroke:0.15px #2b2b2b;">46</div>
<div id="t126" style="position:absolute;left:677.43px;top:469.76px;font-size:14.7px;line-height:14.7px;font-weight:normal;color:#2b2b2b;transform:scaleX(0.8696);transform-origin:0 0;-webkit-text-stroke:0.15px #2b2b2b;">240 cm</div>
<div id="t127" style="position:absolute;left:763.57px;top:469.76px;font-size:14.7px;line-height:14.7px;font-weight:normal;color:#2b2b2b;transform:scaleX(0.8500);transform-origin:0 0;-webkit-text-stroke:0.15px #2b2b2b;">24</div>
<div id="t128" style="position:absolute;left:836.30px;top:469.76px;font-size:14.7px;line-height:14.7px;font-weight:normal;color:#2b2b2b;transform:scaleX(0.8500);transform-origin:0 0;-webkit-text-stroke:0.15px #2b2b2b;">48</div>
<div id="t129" style="position:absolute;left:677.43px;top:489.76px;font-size:14.7px;line-height:14.7px;font-weight:normal;color:#2b2b2b;transform:scaleX(0.8696);transform-origin:0 0;-webkit-text-stroke:0.15px #2b2b2b;">250 cm</div>
<div id="t130" style="position:absolute;left:763.57px;top:489.76px;font-size:14.7px;line-height:14.7px;font-weight:normal;color:#2b2b2b;transform:scaleX(0.8500);transform-origin:0 0;-webkit-text-stroke:0.15px #2b2b2b;">25</div>
<div id="t131" style="position:absolute;left:835.88px;top:489.76px;font-size:14.7px;line-height:14.7px;font-weight:normal;color:#2b2b2b;transform:scaleX(0.8500);transform-origin:0 0;-webkit-text-stroke:0.15px #2b2b2b;">50</div>
<div id="t132" style="position:absolute;left:677.43px;top:509.76px;font-size:14.7px;line-height:14.7px;font-weight:normal;color:#2b2b2b;transform:scaleX(0.8696);transform-origin:0 0;-webkit-text-stroke:0.15px #2b2b2b;">260 cm</div>
<div id="t133" style="position:absolute;left:763.57px;top:509.76px;font-size:14.7px;line-height:14.7px;font-weight:normal;color:#2b2b2b;transform:scaleX(0.8500);transform-origin:0 0;-webkit-text-stroke:0.15px #2b2b2b;">26</div>
<div id="t134" style="position:absolute;left:835.88px;top:509.76px;font-size:14.7px;line-height:14.7px;font-weight:normal;color:#2b2b2b;transform:scaleX(0.8500);transform-origin:0 0;-webkit-text-stroke:0.15px #2b2b2b;">52</div>
<div id="t135" style="position:absolute;left:677.43px;top:529.76px;font-size:14.7px;line-height:14.7px;font-weight:normal;color:#2b2b2b;transform:scaleX(0.8696);transform-origin:0 0;-webkit-text-stroke:0.15px #2b2b2b;">270 cm</div>
<div id="t136" style="position:absolute;left:763.57px;top:529.76px;font-size:14.7px;line-height:14.7px;font-weight:normal;color:#2b2b2b;transform:scaleX(0.8500);transform-origin:0 0;-webkit-text-stroke:0.15px #2b2b2b;">27</div>
<div id="t137" style="position:absolute;left:835.88px;top:529.76px;font-size:14.7px;line-height:14.7px;font-weight:normal;color:#2b2b2b;transform:scaleX(0.8500);transform-origin:0 0;-webkit-text-stroke:0.15px #2b2b2b;">54</div>
<div id="t138" style="position:absolute;left:677.43px;top:549.76px;font-size:14.7px;line-height:14.7px;font-weight:normal;color:#2b2b2b;transform:scaleX(0.8696);transform-origin:0 0;-webkit-text-stroke:0.15px #2b2b2b;">280 cm</div>
<div id="t139" style="position:absolute;left:763.57px;top:549.76px;font-size:14.7px;line-height:14.7px;font-weight:normal;color:#2b2b2b;transform:scaleX(0.8500);transform-origin:0 0;-webkit-text-stroke:0.15px #2b2b2b;">28</div>
<div id="t140" style="position:absolute;left:835.88px;top:549.76px;font-size:14.7px;line-height:14.7px;font-weight:normal;color:#2b2b2b;transform:scaleX(0.8500);transform-origin:0 0;-webkit-text-stroke:0.15px #2b2b2b;">56</div>
<div id="t141" style="position:absolute;left:677.43px;top:569.76px;font-size:14.7px;line-height:14.7px;font-weight:normal;color:#2b2b2b;transform:scaleX(0.8696);transform-origin:0 0;-webkit-text-stroke:0.15px #2b2b2b;">290 cm</div>
<div id="t142" style="position:absolute;left:763.57px;top:569.76px;font-size:14.7px;line-height:14.7px;font-weight:normal;color:#2b2b2b;transform:scaleX(0.8500);transform-origin:0 0;-webkit-text-stroke:0.15px #2b2b2b;">29</div>
<div id="t143" style="position:absolute;left:835.88px;top:569.76px;font-size:14.7px;line-height:14.7px;font-weight:normal;color:#2b2b2b;transform:scaleX(0.8500);transform-origin:0 0;-webkit-text-stroke:0.15px #2b2b2b;">58</div>
<div id="t144" style="position:absolute;left:913.52px;top:188.76px;font-size:14.7px;line-height:14.7px;font-weight:normal;color:#2b2b2b;transform:scaleX(0.8761);transform-origin:0 0;-webkit-text-stroke:0.15px #2b2b2b;">300 cm</div>
<div id="t145" style="position:absolute;left:999.77px;top:188.76px;font-size:14.7px;line-height:14.7px;font-weight:normal;color:#2b2b2b;transform:scaleX(0.8500);transform-origin:0 0;-webkit-text-stroke:0.15px #2b2b2b;">30</div>
<div id="t146" style="position:absolute;left:1072.38px;top:188.76px;font-size:14.7px;line-height:14.7px;font-weight:normal;color:#2b2b2b;transform:scaleX(0.8500);transform-origin:0 0;-webkit-text-stroke:0.15px #2b2b2b;">60</div>
<div id="t147" style="position:absolute;left:913.52px;top:208.76px;font-size:14.7px;line-height:14.7px;font-weight:normal;color:#2b2b2b;transform:scaleX(0.8761);transform-origin:0 0;-webkit-text-stroke:0.15px #2b2b2b;">310 cm</div>
<div id="t148" style="position:absolute;left:999.77px;top:208.76px;font-size:14.7px;line-height:14.7px;font-weight:normal;color:#2b2b2b;transform:scaleX(0.8500);transform-origin:0 0;-webkit-text-stroke:0.15px #2b2b2b;">31</div>
<div id="t149" style="position:absolute;left:1072.38px;top:208.76px;font-size:14.7px;line-height:14.7px;font-weight:normal;color:#2b2b2b;transform:scaleX(0.8500);transform-origin:0 0;-webkit-text-stroke:0.15px #2b2b2b;">62</div>
<div id="t150" style="position:absolute;left:913.52px;top:228.76px;font-size:14.7px;line-height:14.7px;font-weight:normal;color:#2b2b2b;transform:scaleX(0.8761);transform-origin:0 0;-webkit-text-stroke:0.15px #2b2b2b;">320 cm</div>
<div id="t151" style="position:absolute;left:999.77px;top:228.76px;font-size:14.7px;line-height:14.7px;font-weight:normal;color:#2b2b2b;transform:scaleX(0.8500);transform-origin:0 0;-webkit-text-stroke:0.15px #2b2b2b;">32</div>
<div id="t152" style="position:absolute;left:1072.38px;top:228.76px;font-size:14.7px;line-height:14.7px;font-weight:normal;color:#2b2b2b;transform:scaleX(0.8500);transform-origin:0 0;-webkit-text-stroke:0.15px #2b2b2b;">64</div>
<div id="t153" style="position:absolute;left:913.52px;top:248.76px;font-size:14.7px;line-height:14.7px;font-weight:normal;color:#2b2b2b;transform:scaleX(0.8761);transform-origin:0 0;-webkit-text-stroke:0.15px #2b2b2b;">330 cm</div>
<div id="t154" style="position:absolute;left:999.77px;top:248.76px;font-size:14.7px;line-height:14.7px;font-weight:normal;color:#2b2b2b;transform:scaleX(0.8500);transform-origin:0 0;-webkit-text-stroke:0.15px #2b2b2b;">33</div>
<div id="t155" style="position:absolute;left:1072.38px;top:248.76px;font-size:14.7px;line-height:14.7px;font-weight:normal;color:#2b2b2b;transform:scaleX(0.8500);transform-origin:0 0;-webkit-text-stroke:0.15px #2b2b2b;">66</div>
<div id="t156" style="position:absolute;left:913.52px;top:268.76px;font-size:14.7px;line-height:14.7px;font-weight:normal;color:#2b2b2b;transform:scaleX(0.8761);transform-origin:0 0;-webkit-text-stroke:0.15px #2b2b2b;">340 cm</div>
<div id="t157" style="position:absolute;left:999.77px;top:268.76px;font-size:14.7px;line-height:14.7px;font-weight:normal;color:#2b2b2b;transform:scaleX(0.8500);transform-origin:0 0;-webkit-text-stroke:0.15px #2b2b2b;">34</div>
<div id="t158" style="position:absolute;left:1072.38px;top:268.76px;font-size:14.7px;line-height:14.7px;font-weight:normal;color:#2b2b2b;transform:scaleX(0.8500);transform-origin:0 0;-webkit-text-stroke:0.15px #2b2b2b;">68</div>
<div id="t159" style="position:absolute;left:913.52px;top:288.76px;font-size:14.7px;line-height:14.7px;font-weight:normal;color:#2b2b2b;transform:scaleX(0.8761);transform-origin:0 0;-webkit-text-stroke:0.15px #2b2b2b;">350 cm</div>
<div id="t160" style="position:absolute;left:999.77px;top:288.76px;font-size:14.7px;line-height:14.7px;font-weight:normal;color:#2b2b2b;transform:scaleX(0.8500);transform-origin:0 0;-webkit-text-stroke:0.15px #2b2b2b;">35</div>
<div id="t161" style="position:absolute;left:1072.38px;top:288.76px;font-size:14.7px;line-height:14.7px;font-weight:normal;color:#2b2b2b;transform:scaleX(0.8500);transform-origin:0 0;-webkit-text-stroke:0.15px #2b2b2b;">70</div>
<div id="t162" style="position:absolute;left:913.52px;top:308.76px;font-size:14.7px;line-height:14.7px;font-weight:normal;color:#2b2b2b;transform:scaleX(0.8761);transform-origin:0 0;-webkit-text-stroke:0.15px #2b2b2b;">360 cm</div>
<div id="t163" style="position:absolute;left:999.77px;top:308.76px;font-size:14.7px;line-height:14.7px;font-weight:normal;color:#2b2b2b;transform:scaleX(0.8500);transform-origin:0 0;-webkit-text-stroke:0.15px #2b2b2b;">36</div>
<div id="t164" style="position:absolute;left:1072.38px;top:308.76px;font-size:14.7px;line-height:14.7px;font-weight:normal;color:#2b2b2b;transform:scaleX(0.8500);transform-origin:0 0;-webkit-text-stroke:0.15px #2b2b2b;">72</div>
<div id="t165" style="position:absolute;left:913.52px;top:328.76px;font-size:14.7px;line-height:14.7px;font-weight:normal;color:#2b2b2b;transform:scaleX(0.8761);transform-origin:0 0;-webkit-text-stroke:0.15px #2b2b2b;">370 cm</div>
<div id="t166" style="position:absolute;left:999.77px;top:328.76px;font-size:14.7px;line-height:14.7px;font-weight:normal;color:#2b2b2b;transform:scaleX(0.8500);transform-origin:0 0;-webkit-text-stroke:0.15px #2b2b2b;">37</div>
<div id="t167" style="position:absolute;left:1072.38px;top:328.76px;font-size:14.7px;line-height:14.7px;font-weight:normal;color:#2b2b2b;transform:scaleX(0.8500);transform-origin:0 0;-webkit-text-stroke:0.15px #2b2b2b;">74</div>
<div id="t168" style="position:absolute;left:913.52px;top:348.76px;font-size:14.7px;line-height:14.7px;font-weight:normal;color:#2b2b2b;transform:scaleX(0.8761);transform-origin:0 0;-webkit-text-stroke:0.15px #2b2b2b;">380 cm</div>
<div id="t169" style="position:absolute;left:999.77px;top:348.76px;font-size:14.7px;line-height:14.7px;font-weight:normal;color:#2b2b2b;transform:scaleX(0.8500);transform-origin:0 0;-webkit-text-stroke:0.15px #2b2b2b;">38</div>
<div id="t170" style="position:absolute;left:1072.38px;top:348.76px;font-size:14.7px;line-height:14.7px;font-weight:normal;color:#2b2b2b;transform:scaleX(0.8500);transform-origin:0 0;-webkit-text-stroke:0.15px #2b2b2b;">76</div>
<div id="t171" style="position:absolute;left:913.52px;top:369.76px;font-size:14.7px;line-height:14.7px;font-weight:normal;color:#2b2b2b;transform:scaleX(0.8761);transform-origin:0 0;-webkit-text-stroke:0.15px #2b2b2b;">390 cm</div>
<div id="t172" style="position:absolute;left:999.77px;top:369.76px;font-size:14.7px;line-height:14.7px;font-weight:normal;color:#2b2b2b;transform:scaleX(0.8500);transform-origin:0 0;-webkit-text-stroke:0.15px #2b2b2b;">39</div>
<div id="t173" style="position:absolute;left:1072.38px;top:369.76px;font-size:14.7px;line-height:14.7px;font-weight:normal;color:#2b2b2b;transform:scaleX(0.8500);transform-origin:0 0;-webkit-text-stroke:0.15px #2b2b2b;">78</div>
<div id="t174" style="position:absolute;left:914.40px;top:389.76px;font-size:14.7px;line-height:14.7px;font-weight:normal;color:#2b2b2b;transform:scaleX(0.8574);transform-origin:0 0;-webkit-text-stroke:0.15px #2b2b2b;">400 cm</div>
<div id="t175" style="position:absolute;left:1000.20px;top:389.76px;font-size:14.7px;line-height:14.7px;font-weight:normal;color:#2b2b2b;transform:scaleX(0.8500);transform-origin:0 0;-webkit-text-stroke:0.15px #2b2b2b;">40</div>
<div id="t176" style="position:absolute;left:1072.38px;top:389.76px;font-size:14.7px;line-height:14.7px;font-weight:normal;color:#2b2b2b;transform:scaleX(0.8500);transform-origin:0 0;-webkit-text-stroke:0.15px #2b2b2b;">80</div>
<div id="t177" style="position:absolute;left:914.40px;top:409.76px;font-size:14.7px;line-height:14.7px;font-weight:normal;color:#2b2b2b;transform:scaleX(0.8574);transform-origin:0 0;-webkit-text-stroke:0.15px #2b2b2b;">410 cm</div>
<div id="t178" style="position:absolute;left:1000.20px;top:409.76px;font-size:14.7px;line-height:14.7px;font-weight:normal;color:#2b2b2b;transform:scaleX(0.8500);transform-origin:0 0;-webkit-text-stroke:0.15px #2b2b2b;">41</div>
<div id="t179" style="position:absolute;left:1072.38px;top:409.76px;font-size:14.7px;line-height:14.7px;font-weight:normal;color:#2b2b2b;transform:scaleX(0.8500);transform-origin:0 0;-webkit-text-stroke:0.15px #2b2b2b;">82</div>
<div id="t180" style="position:absolute;left:914.40px;top:429.76px;font-size:14.7px;line-height:14.7px;font-weight:normal;color:#2b2b2b;transform:scaleX(0.8574);transform-origin:0 0;-webkit-text-stroke:0.15px #2b2b2b;">420 cm</div>
<div id="t181" style="position:absolute;left:1000.20px;top:429.76px;font-size:14.7px;line-height:14.7px;font-weight:normal;color:#2b2b2b;transform:scaleX(0.8500);transform-origin:0 0;-webkit-text-stroke:0.15px #2b2b2b;">42</div>
<div id="t182" style="position:absolute;left:1072.38px;top:429.76px;font-size:14.7px;line-height:14.7px;font-weight:normal;color:#2b2b2b;transform:scaleX(0.8500);transform-origin:0 0;-webkit-text-stroke:0.15px #2b2b2b;">84</div>
<div id="t183" style="position:absolute;left:914.40px;top:449.76px;font-size:14.7px;line-height:14.7px;font-weight:normal;color:#2b2b2b;transform:scaleX(0.8574);transform-origin:0 0;-webkit-text-stroke:0.15px #2b2b2b;">430 cm</div>
<div id="t184" style="position:absolute;left:1000.20px;top:449.76px;font-size:14.7px;line-height:14.7px;font-weight:normal;color:#2b2b2b;transform:scaleX(0.8500);transform-origin:0 0;-webkit-text-stroke:0.15px #2b2b2b;">43</div>
<div id="t185" style="position:absolute;left:1072.38px;top:449.76px;font-size:14.7px;line-height:14.7px;font-weight:normal;color:#2b2b2b;transform:scaleX(0.8500);transform-origin:0 0;-webkit-text-stroke:0.15px #2b2b2b;">86</div>
<div id="t186" style="position:absolute;left:914.40px;top:469.76px;font-size:14.7px;line-height:14.7px;font-weight:normal;color:#2b2b2b;transform:scaleX(0.8574);transform-origin:0 0;-webkit-text-stroke:0.15px #2b2b2b;">440 cm</div>
<div id="t187" style="position:absolute;left:1000.20px;top:469.76px;font-size:14.7px;line-height:14.7px;font-weight:normal;color:#2b2b2b;transform:scaleX(0.8500);transform-origin:0 0;-webkit-text-stroke:0.15px #2b2b2b;">44</div>
<div id="t188" style="position:absolute;left:1072.38px;top:469.76px;font-size:14.7px;line-height:14.7px;font-weight:normal;color:#2b2b2b;transform:scaleX(0.8500);transform-origin:0 0;-webkit-text-stroke:0.15px #2b2b2b;">88</div>
<div id="t189" style="position:absolute;left:914.40px;top:489.76px;font-size:14.7px;line-height:14.7px;font-weight:normal;color:#2b2b2b;transform:scaleX(0.8574);transform-origin:0 0;-webkit-text-stroke:0.15px #2b2b2b;">450 cm</div>
<div id="t190" style="position:absolute;left:1000.20px;top:489.76px;font-size:14.7px;line-height:14.7px;font-weight:normal;color:#2b2b2b;transform:scaleX(0.8500);transform-origin:0 0;-webkit-text-stroke:0.15px #2b2b2b;">45</div>
<div id="t191" style="position:absolute;left:1072.38px;top:489.76px;font-size:14.7px;line-height:14.7px;font-weight:normal;color:#2b2b2b;transform:scaleX(0.8500);transform-origin:0 0;-webkit-text-stroke:0.15px #2b2b2b;">90</div>
<div id="t192" style="position:absolute;left:914.40px;top:509.76px;font-size:14.7px;line-height:14.7px;font-weight:normal;color:#2b2b2b;transform:scaleX(0.8574);transform-origin:0 0;-webkit-text-stroke:0.15px #2b2b2b;">460 cm</div>
<div id="t193" style="position:absolute;left:1000.20px;top:509.76px;font-size:14.7px;line-height:14.7px;font-weight:normal;color:#2b2b2b;transform:scaleX(0.8500);transform-origin:0 0;-webkit-text-stroke:0.15px #2b2b2b;">46</div>
<div id="t194" style="position:absolute;left:1072.38px;top:509.76px;font-size:14.7px;line-height:14.7px;font-weight:normal;color:#2b2b2b;transform:scaleX(0.8500);transform-origin:0 0;-webkit-text-stroke:0.15px #2b2b2b;">92</div>
<div id="t195" style="position:absolute;left:914.40px;top:529.76px;font-size:14.7px;line-height:14.7px;font-weight:normal;color:#2b2b2b;transform:scaleX(0.8574);transform-origin:0 0;-webkit-text-stroke:0.15px #2b2b2b;">470 cm</div>
<div id="t196" style="position:absolute;left:1000.20px;top:529.76px;font-size:14.7px;line-height:14.7px;font-weight:normal;color:#2b2b2b;transform:scaleX(0.8500);transform-origin:0 0;-webkit-text-stroke:0.15px #2b2b2b;">47</div>
<div id="t197" style="position:absolute;left:1072.38px;top:529.76px;font-size:14.7px;line-height:14.7px;font-weight:normal;color:#2b2b2b;transform:scaleX(0.8500);transform-origin:0 0;-webkit-text-stroke:0.15px #2b2b2b;">94</div>
<div id="t198" style="position:absolute;left:914.40px;top:549.76px;font-size:14.7px;line-height:14.7px;font-weight:normal;color:#2b2b2b;transform:scaleX(0.8574);transform-origin:0 0;-webkit-text-stroke:0.15px #2b2b2b;">480 cm</div>
<div id="t199" style="position:absolute;left:1000.20px;top:549.76px;font-size:14.7px;line-height:14.7px;font-weight:normal;color:#2b2b2b;transform:scaleX(0.8500);transform-origin:0 0;-webkit-text-stroke:0.15px #2b2b2b;">48</div>
<div id="t200" style="position:absolute;left:1072.38px;top:549.76px;font-size:14.7px;line-height:14.7px;font-weight:normal;color:#2b2b2b;transform:scaleX(0.8500);transform-origin:0 0;-webkit-text-stroke:0.15px #2b2b2b;">96</div>
<div id="t201" style="position:absolute;left:1061.67px;top:818.74px;font-size:10px;line-height:10px;font-weight:normal;color:#262626;transform:scaleX(0.8295);transform-origin:0 0;-webkit-text-stroke:0.15px #262626;">Flat IL Wand/Decke, 04/2024</div>
</div></body></html>
